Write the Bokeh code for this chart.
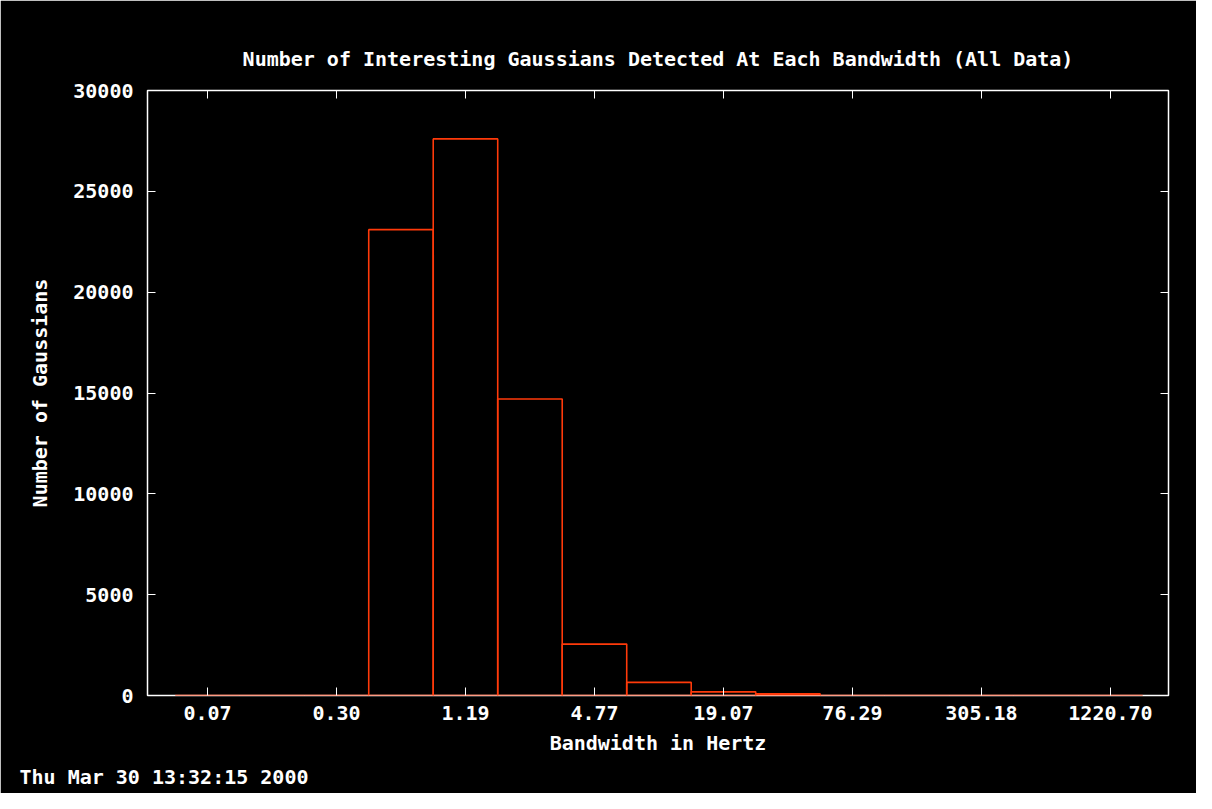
from bokeh.plotting import figure
from bokeh.models import Range1d, LinearAxis, FixedTicker, Title
from bokeh.embed import file_html
from bokeh.resources import INLINE

bins = list(range(15))
counts = [0, 0, 0, 23100, 27600, 14700, 2550, 650, 180, 80, 0, 0, 0, 0, 0]
tick_pos = [0, 2, 4, 6, 8, 10, 12, 14]
tick_labels = ["0.07", "0.30", "1.19", "4.77", "19.07", "76.29", "305.18", "1220.70"]
y_ticks = [0, 5000, 10000, 15000, 20000, 25000, 30000]

FONT = "DejaVu Sans Mono"
RED = "#ff3a0a"
FS = "20px"

p = figure(width=1196, height=793, output_backend="svg", toolbar_location=None,
           x_range=Range1d(-0.93, 14.9), y_range=Range1d(0, 30000),
           min_border_left=147, min_border_right=28, min_border_top=90, min_border_bottom=97)
p.background_fill_color = "black"
p.border_fill_color = "black"
p.outline_line_color = "white"
p.outline_line_width = 1.5
p.grid.visible = False

p.quad(left=[b - 0.5 for b in bins], right=[b + 0.5 for b in bins], bottom=0, top=counts,
       fill_alpha=0, line_color=RED, line_width=1.6)

def style(ax, labels=True):
    ax.axis_line_color = None
    ax.major_tick_line_color = "white"
    ax.major_tick_in = 8
    ax.major_tick_out = 0
    ax.minor_tick_line_color = None
    ax.major_label_text_color = "white" if labels else None
    ax.major_label_text_font = FONT
    ax.major_label_text_font_style = "bold"
    ax.major_label_text_font_size = FS
    ax.axis_label_text_color = "white"
    ax.axis_label_text_font = FONT
    ax.axis_label_text_font_style = "bold"
    ax.axis_label_text_font_size = FS

xa = p.xaxis[0]
xa.ticker = FixedTicker(ticks=tick_pos)
xa.major_label_overrides = {t: l for t, l in zip(tick_pos, tick_labels)}
xa.axis_label = "Bandwidth in Hertz"
xa.major_label_standoff = 10
xa.axis_label_standoff = 8
style(xa)
ya = p.yaxis[0]
ya.ticker = FixedTicker(ticks=y_ticks)
ya.axis_label = "Number of Gaussians"
ya.major_label_standoff = 14
ya.axis_label_standoff = 18
style(ya)

top = LinearAxis(ticker=FixedTicker(ticks=tick_pos))
style(top, labels=False)
p.add_layout(top, "above")
right = LinearAxis(ticker=FixedTicker(ticks=y_ticks))
style(right, labels=False)
p.add_layout(right, "right")

p.title.text = "Number of Interesting Gaussians Detected At Each Bandwidth (All Data)"
p.title.text_color = "white"
p.title.text_font = FONT
p.title.text_font_style = "bold"
p.title.text_font_size = FS
p.title.align = "center"
p.title.standoff = 40

ts = Title(text="Thu Mar 30 13:32:15 2000", align="left", offset=-128,
           text_color="white", text_font=FONT, text_font_style="bold", text_font_size=FS)
p.add_layout(ts, "below")

open("out.html", "w").write(file_html(p, INLINE))
